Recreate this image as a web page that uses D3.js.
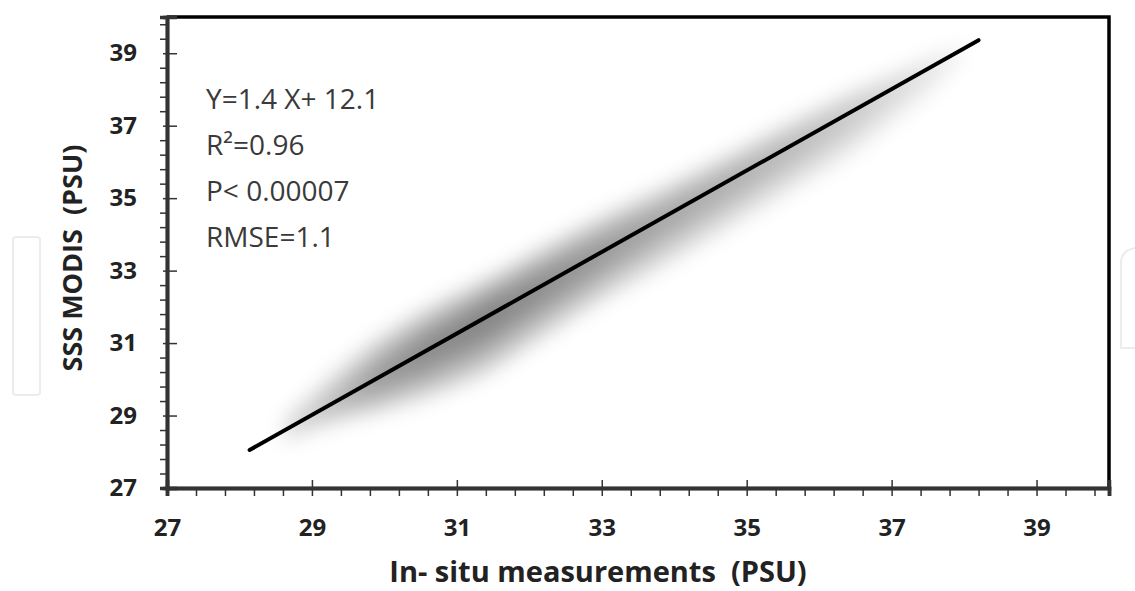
<!DOCTYPE html>
<html>
<head>
<meta charset="utf-8">
<script src="https://d3js.org/d3.v7.min.js"></script>
<style>
  body { margin: 0; background: #fff; }
  svg { display: block; }
  .tick text { font-family: "Open Sans", sans-serif; font-weight: 700; font-size: 24px; fill: #222; }
</style>
</head>
<body>
<script>
// axis ticks (PSU)
var xTicks = [27, 29, 31, 33, 35, 37, 39];
var yTicks = [27, 29, 31, 33, 35, 37, 39];
var minorStep = 0.4;

// fitted line end points (in-situ, MODIS)
var fitX = [28.14, 38.2];
var fitY = [28.05, 39.36];

// point cloud around the fit: position, spread above / below the line, relative density
var cloudX       = [28.6, 29.3, 29.9, 30.6, 31.4, 32.2, 33.0, 33.9, 34.8, 35.6, 36.4, 37.0, 37.6, 38.0];
var cloudAbove   = [0.50, 0.95, 1.20, 1.25, 1.15, 1.15, 1.10, 0.95, 0.85, 0.80, 0.70, 0.55, 0.40, 0.25];
var cloudBelow   = [0.45, 0.70, 1.05, 1.40, 1.65, 1.55, 1.45, 1.45, 1.40, 1.35, 1.30, 1.10, 0.85, 0.45];
var cloudDensity = [0.15, 0.35, 0.55, 0.68, 0.72, 0.65, 0.57, 0.48, 0.42, 0.36, 0.28, 0.20, 0.12, 0.05];

var statsText = ["Y=1.4 X+ 12.1", "R\u00b2=0.96", "P< 0.00007", "RMSE=1.1"];

var margin = {top: 17, right: 26, bottom: 103, left: 167};
var fullWidth = 1135, fullHeight = 591;
var width = fullWidth - margin.left - margin.right;
var height = fullHeight - margin.top - margin.bottom;

var svg = d3.select("body")
  .append("svg")
    .attr("width", fullWidth)
    .attr("height", fullHeight);

var defs = svg.append("defs");

var canvas = svg.append("g")
  .attr("transform", "translate(" + margin.left + "," + margin.top + ")");

var x = d3.scaleLinear().domain([27, 40]).range([0, width]);
var y = d3.scaleLinear().domain([27, 40]).range([height, 0]);
var fit = d3.scaleLinear().domain(fitX).range(fitY);

//minor tick values every 0.4 PSU, skipping the labelled ones
var minorTicks = d3.range(0, 33).map(function(i) { return +(27 + i * minorStep).toFixed(1); })
  .filter(function(v) { return xTicks.indexOf(v) < 0; });

// faint watermark frames at the page edges
svg.append("rect").attr("x", 13).attr("y", 237).attr("width", 27).attr("height", 158)
  .attr("rx", 3).attr("fill", "none").attr("stroke", "#ececec").attr("stroke-width", 2);
svg.append("path").attr("d", "M1135,248 Q1122,250 1121,262 L1121,348 L1135,348")
  .attr("fill", "none").attr("stroke", "#ececec").attr("stroke-width", 2);

// ---- density cloud ----
var grad = defs.append("linearGradient")
  .attr("id", "cloudFade")
  .attr("gradientUnits", "userSpaceOnUse")
  .attr("x1", x(cloudX[0])).attr("x2", x(cloudX[cloudX.length - 1]))
  .attr("y1", 0).attr("y2", 0);
var x0 = cloudX[0], xn = cloudX[cloudX.length - 1];
grad.selectAll("stop")
  .data(cloudX)
  .enter()
  .append("stop")
    .attr("offset", function(d) { return (d - x0) / (xn - x0); })
    .attr("stop-color", "#000")
    .attr("stop-opacity", function(d, i) { return cloudDensity[i]; });

var blur = defs.append("filter")
  .attr("id", "cloudBlur")
  .attr("x", "-20%").attr("y", "-20%").attr("width", "140%").attr("height", "140%");
blur.append("feGaussianBlur").attr("stdDeviation", 9);

var cloud = cloudX.map(function(d, i) {
  return {x: d, above: cloudAbove[i], below: cloudBelow[i]};
});

var bandLevels = [1, 0.85, 0.70, 0.55, 0.40, 0.25];

var cloudG = canvas.append("g")
  .attr("filter", "url(#cloudBlur)");

cloudG.selectAll("path.band")
  .data(bandLevels)
  .enter()
  .append("path")
    .attr("class", "band")
    .attr("fill", "url(#cloudFade)")
    .attr("fill-opacity", 0.14)
    .attr("d", function(t) {
      return d3.area()
        .curve(d3.curveCatmullRom)
        .x(function(d) { return x(d.x); })
        .y0(function(d) { return y(fit(d.x) - d.below * t); })
        .y1(function(d) { return y(fit(d.x) + d.above * t); })(cloud);
    });

// ---- fitted line ----
canvas.append("line")
  .attr("x1", x(fitX[0])).attr("y1", y(fitY[0]))
  .attr("x2", x(fitX[1])).attr("y2", y(fitY[1]))
  .attr("stroke", "#000")
  .attr("stroke-width", 4)
  .attr("stroke-linecap", "round");

// ---- frame (top and right) ----
canvas.append("path")
  .attr("d", "M0,0 H" + width + " V" + height)
  .attr("fill", "none")
  .attr("stroke", "#000")
  .attr("stroke-width", 3.5);

// ---- axes ----
function styleAxis(g) {
  g.select(".domain").attr("stroke", "#333").attr("stroke-width", 3.5);
  g.selectAll(".tick line").attr("stroke", "#333").attr("stroke-width", 1.5);
}

// x minor
canvas.append("g")
  .attr("transform", "translate(0," + height + ")")
  .call(d3.axisBottom(x).tickValues(minorTicks).tickSize(8).tickFormat(""))
  .call(styleAxis);
// x major inward part
canvas.append("g")
  .attr("transform", "translate(0," + height + ")")
  .call(d3.axisBottom(x).tickValues(xTicks).tickSize(-8).tickFormat(""))
  .call(styleAxis);
// x major with labels
canvas.append("g")
  .attr("class", "x axis")
  .attr("transform", "translate(0," + height + ")")
  .call(d3.axisBottom(x).tickValues(xTicks).tickSize(8).tickPadding(23).tickFormat(d3.format("d")))
  .call(styleAxis);

var yMinor = minorTicks.filter(function(v) { return yTicks.indexOf(v) < 0; });
canvas.append("g")
  .call(d3.axisLeft(y).tickValues(yMinor).tickSize(7).tickFormat(""))
  .call(styleAxis);
canvas.append("g")
  .call(d3.axisLeft(y).tickValues(yTicks).tickSize(-10).tickFormat(""))
  .call(styleAxis);
canvas.append("g")
  .attr("class", "y axis")
  .call(d3.axisLeft(y).tickValues(yTicks).tickSize(4).tickPadding(26).tickFormat(d3.format("d")))
  .call(styleAxis);

// ---- axis titles ----
svg.append("text")
  .attr("x", 598)
  .attr("y", 582)
  .attr("text-anchor", "middle")
  .style("font-family", "'Open Sans', sans-serif")
  .style("font-weight", 700)
  .style("font-size", "29px")
  .style("fill", "#222")
  .attr("xml:space", "preserve")
  .text("In- situ measurements  (PSU)");

svg.append("text")
  .attr("transform", "translate(82,258) rotate(-90)")
  .attr("text-anchor", "middle")
  .style("font-family", "'Open Sans', sans-serif")
  .style("font-weight", 700)
  .style("font-size", "27px")
  .style("fill", "#222")
  .attr("xml:space", "preserve")
  .text("SSS MODIS  (PSU)");

// ---- regression statistics ----
canvas.append("g")
  .selectAll("text")
  .data(statsText)
  .enter()
  .append("text")
    .attr("x", 39)
    .attr("y", function(d, i) { return 92 + i * 46; })
    .style("font-family", "'Open Sans', sans-serif")
    .style("font-size", "28px")
    .style("fill", "#3a3a3a")
    .text(function(d) { return d; });
</script>
</body>
</html>
